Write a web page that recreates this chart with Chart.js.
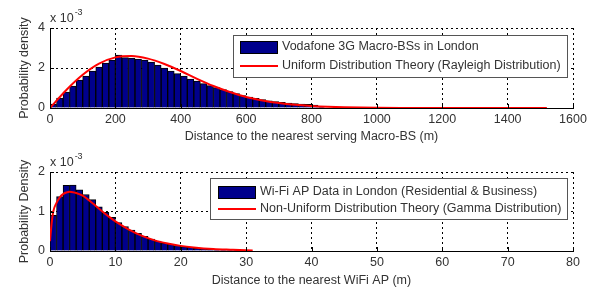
<!DOCTYPE html>
<html>
<head>
<meta charset="utf-8">
<script src="https://cdn.jsdelivr.net/npm/chart.js@4.4.0/dist/chart.umd.min.js"></script>
<style>
  html, body { margin: 0; padding: 0; background: #fff; }
  .panel { position: absolute; left: 0; width: 599px; }
</style>
</head>
<body>
<div class="panel" style="top:0;height:145px"><canvas id="macroChart"></canvas></div>
<div class="panel" style="top:145px;height:144px"><canvas id="wifiChart"></canvas></div>
<script>
// top panel: distance to nearest macro-BS (m), density in units of 1e-3
const macroBins = [10, 30, 50, 70, 90, 110, 130, 150, 170, 190, 210, 230, 250, 270, 290, 310, 330, 350, 370, 390,
  410, 430, 450, 470, 490, 510, 530, 550, 570, 590, 610, 630, 650, 670, 690, 710, 730, 750, 770, 790, 810, 830];
const macroHist = [0.2, 0.5, 0.8, 1.1, 1.4, 1.6, 1.85, 2.05, 2.25, 2.4, 2.65, 2.52, 2.5, 2.45, 2.4, 2.3, 2.15, 2.0, 1.85, 1.72,
  1.6, 1.45, 1.35, 1.22, 1.12, 1.02, 0.92, 0.82, 0.72, 0.62, 0.55, 0.48, 0.42, 0.36, 0.32, 0.28, 0.25, 0.22, 0.2, 0.18, 0.15, 0.04];
const macroFitX = [0, 50, 100, 150, 200, 250, 300, 350, 400, 450, 500, 550, 600, 650, 700, 750, 800, 850, 900, 1000, 1100, 1200, 1520];
const macroFitY = [0, 0.9, 1.66, 2.22, 2.53, 2.6, 2.47, 2.2, 1.85, 1.46, 1.1, 0.8, 0.55, 0.38, 0.25, 0.16, 0.1, 0.06, 0.035, 0.01, 0.003, 0, 0];
const macroXTicks = [0, 200, 400, 600, 800, 1000, 1200, 1400, 1600];
const macroYTicks = [0, 2, 4];

// bottom panel: distance to nearest WiFi AP (m), density in units of 1e-3
const wifiBins = [0.5, 1.5, 2.5, 3.5, 4.5, 5.5, 6.5, 7.5, 8.5, 9.5, 10.5, 11.5, 12.5, 13.5, 14.5, 15.5,
  16.5, 17.5, 18.5, 19.5, 20.5, 21.5, 22.5, 23.5, 24.5, 25.5, 26.5, 27.5, 28.5, 29.5, 30.5];
const wifiHist = [0.9, 1.38, 1.66, 1.67, 1.55, 1.43, 1.3, 1.12, 0.98, 0.85, 0.72, 0.62, 0.53, 0.45, 0.37, 0.3,
  0.25, 0.2, 0.17, 0.14, 0.11, 0.09, 0.07, 0.055, 0.045, 0.035, 0.03, 0.025, 0.02, 0.015, 0.012];
const wifiFitX = [0, 0.25, 0.5, 1, 1.5, 2, 2.5, 3, 3.5, 4, 5, 6, 7, 8, 9, 10, 12, 14, 16, 18, 20, 22, 25, 28, 31];
const wifiFitY = [0.25, 0.7, 1.0, 1.22, 1.36, 1.44, 1.48, 1.5, 1.49, 1.47, 1.4, 1.28, 1.14, 1.0, 0.87, 0.75,
  0.55, 0.39, 0.27, 0.19, 0.13, 0.09, 0.05, 0.03, 0.01];
const wifiXTicks = [0, 10, 20, 30, 40, 50, 60, 70, 80];
const wifiYTicks = [0, 1, 2];

const FONT = '"Liberation Sans", Arial, sans-serif';
const TEXT = '#333';
const SIZE = 12.5;

// left/bottom inward ticks, "x 10^-3" and the boxed legend, matlab style
const matlabAxes = {
  id: 'matlabAxes',
  afterDraw(chart, args, opts) {
    const { ctx, chartArea: a, scales: { x, y } } = chart;
    ctx.save();
    ctx.strokeStyle = '#000';
    ctx.lineWidth = 1;
    ctx.beginPath();
    x.ticks.forEach(t => {
      const px = Math.round(x.getPixelForValue(t.value)) + 0.5;
      ctx.moveTo(px, a.bottom);
      ctx.lineTo(px, a.bottom - 4);
    });
    y.ticks.forEach(t => {
      const py = Math.round(y.getPixelForValue(t.value)) + 0.5;
      ctx.moveTo(a.left, py);
      ctx.lineTo(a.left + 4, py);
    });
    ctx.stroke();

    ctx.fillStyle = TEXT;
    ctx.textAlign = 'left';
    ctx.textBaseline = 'middle';
    ctx.font = SIZE + 'px ' + FONT;
    ctx.fillText('x 10', a.left, a.top - 9);
    const w = ctx.measureText('x 10').width;
    ctx.font = '9px ' + FONT;
    ctx.fillText('-3', a.left + w + 1, a.top - 15);

    const b = opts.box;
    ctx.fillStyle = '#fff';
    ctx.fillRect(b.x, b.y, b.w, b.h);
    ctx.strokeStyle = '#555';
    ctx.strokeRect(b.x + 0.5, b.y + 0.5, b.w, b.h);
    ctx.font = SIZE + 'px ' + FONT;
    chart.data.datasets.forEach((ds, i) => {
      const cy = b.rows[i];
      if (ds.type === 'line') {
        ctx.strokeStyle = ds.borderColor;
        ctx.lineWidth = 2;
        ctx.beginPath();
        ctx.moveTo(b.swatchX, cy);
        ctx.lineTo(b.swatchX + 38, cy);
        ctx.stroke();
      } else {
        ctx.fillStyle = ds.backgroundColor;
        ctx.fillRect(b.swatchX, cy - 6, 38, 13);
        ctx.strokeStyle = '#000';
        ctx.lineWidth = 1;
        ctx.strokeRect(b.swatchX + 0.5, cy - 5.5, 37, 12);
      }
      ctx.fillStyle = TEXT;
      ctx.fillText(ds.label, b.swatchX + 42, cy);
    });
    ctx.restore();
  }
};

function makeChart(id, p) {
  const ctx = document.getElementById(id).getContext('2d');
  return new Chart(ctx, {
    type: 'bar',
    data: {
      datasets: [
        {
          label: p.histLabel,
          data: p.bins.map((v, i) => ({ x: v, y: p.hist[i] })),
          backgroundColor: '#00008c',
          borderColor: '#000',
          borderWidth: 1,
          barPercentage: 1,
          categoryPercentage: 1,
          order: 1,
        },
        {
          type: 'line',
          label: p.fitLabel,
          data: p.fitX.map((v, i) => ({ x: v, y: p.fitY[i] })),
          borderColor: '#ff0000',
          borderWidth: 2,
          pointRadius: 0,
          cubicInterpolationMode: 'monotone',
          fill: false,
          order: 0,
        },
      ],
    },
    options: {
      responsive: true,
      maintainAspectRatio: false,
      animation: false,
      layout: { padding: { top: p.top, right: 26, left: 0, bottom: 0 } },
      plugins: {
        legend: { display: false },
        tooltip: { enabled: false },
        matlabAxes: { box: p.box },
      },
      scales: {
        x: {
          type: 'linear',
          offset: false,
          min: p.xTicks[0],
          max: p.xTicks[p.xTicks.length - 1],
          afterBuildTicks: s => { s.ticks = p.xTicks.map(v => ({ value: v })); },
          afterFit: s => { s.height = p.xHeight; },
          grid: { color: '#000', lineWidth: 1, drawTicks: false, offset: false },
          border: { display: true, color: '#000', width: 1, dash: [2, 3] },
          ticks: { color: TEXT, font: { family: FONT, size: SIZE }, padding: 4, maxRotation: 0, callback: v => String(v) },
          title: { display: true, text: p.xTitle, color: TEXT, font: { family: FONT, size: SIZE }, padding: { bottom: 1 } },
        },
        y: {
          min: p.yTicks[0],
          max: p.yTicks[p.yTicks.length - 1],
          afterBuildTicks: s => { s.ticks = p.yTicks.map(v => ({ value: v })); },
          afterFit: s => { s.width = 50; },
          grid: { color: '#000', lineWidth: 1, drawTicks: false },
          border: { display: true, color: '#000', width: 1, dash: [2, 3] },
          ticks: { color: TEXT, font: { family: FONT, size: SIZE }, padding: 5, callback: v => String(v) },
          title: { display: true, text: p.yTitle, color: TEXT, font: { family: FONT, size: SIZE }, padding: { top: 17 } },
        },
      },
    },
    plugins: [matlabAxes],
  });
}

makeChart('macroChart', {
  bins: macroBins, hist: macroHist, fitX: macroFitX, fitY: macroFitY,
  xTicks: macroXTicks, yTicks: macroYTicks,
  histLabel: 'Vodafone 3G Macro-BSs in London',
  fitLabel: 'Uniform Distribution Theory (Rayleigh Distribution)',
  xTitle: 'Distance to the nearest serving Macro-BS (m)',
  yTitle: 'Probability density',
  top: 28, xHeight: 37,
  box: { x: 233, y: 35, w: 334, h: 42, swatchX: 240, rows: [47, 66] },
});

makeChart('wifiChart', {
  bins: wifiBins, hist: wifiHist, fitX: wifiFitX, fitY: wifiFitY,
  xTicks: wifiXTicks, yTicks: wifiYTicks,
  histLabel: 'Wi-Fi AP Data in London (Residential & Business)',
  fitLabel: 'Non-Uniform Distribution Theory (Gamma Distribution)',
  xTitle: 'Distance to the nearest WiFi AP (m)',
  yTitle: 'Probability Density',
  top: 27, xHeight: 38,
  box: { x: 210, y: 33, w: 357, h: 41, swatchX: 218, rows: [47, 64] },
});
</script>
</body>
</html>
